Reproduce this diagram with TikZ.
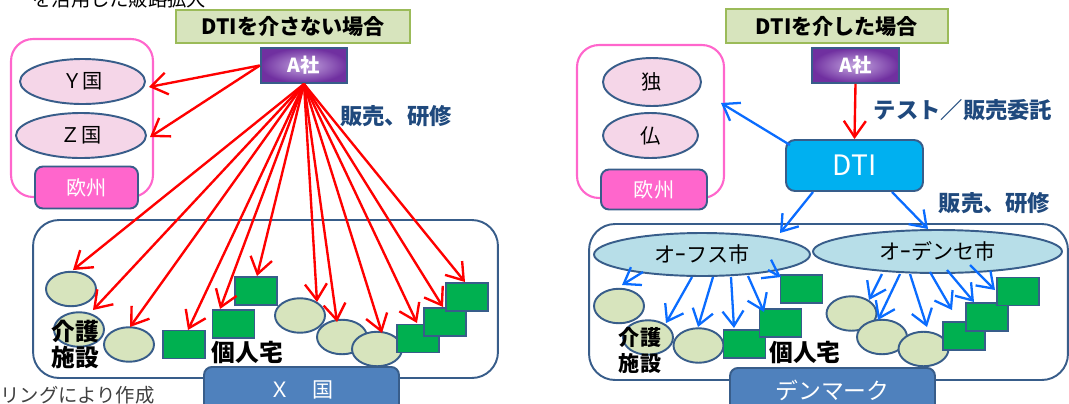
\documentclass[tikz,border=0pt]{standalone}
\usepackage{fontspec}
\setmainfont{Noto Sans CJK JP}
\usetikzlibrary{arrows.meta,shapes.geometric}
\definecolor{bord}{HTML}{385D8A}
\definecolor{titlef}{HTML}{D7E4BD}
\definecolor{titleb}{HTML}{9BBB59}
\definecolor{purd}{HTML}{7030A0}
\definecolor{purl}{HTML}{C4A6E0}
\definecolor{pinkf}{HTML}{FF66CC}
\definecolor{pinke}{HTML}{F5D6E8}
\definecolor{ellf}{HTML}{D7E4BD}
\definecolor{grnf}{HTML}{00B050}
\definecolor{cityf}{HTML}{B7DEE8}
\definecolor{dtif}{HTML}{00B0F0}
\definecolor{regf}{HTML}{4F81BD}
\definecolor{lblc}{HTML}{1F497D}
\definecolor{arrb}{HTML}{0A6CFF}
\definecolor{redc}{HTML}{FF0000}
\tikzset{
 titlebox/.style={draw=titleb, fill=titlef, line width=1.6pt, inner sep=0pt, font=\fontsize{12}{14}\selectfont\bfseries},
 acobox/.style={draw=bord, line width=1.1pt, inner color=purl, outer color=purd, text=white, inner sep=0pt, minimum width=1.73cm, minimum height=0.7cm, font=\fontsize{11}{13}\selectfont\bfseries},
 frame/.style={draw=pinkf, line width=1.2pt, rounded corners=0.44cm, inner sep=0pt},
 euell/.style={ellipse, draw=bord, fill=pinke, line width=1.1pt, inner sep=0pt, font=\fontsize{11.5}{13}\selectfont},
 eubox/.style={draw=bord, fill=pinkf, line width=1.1pt, rounded corners=0.16cm, inner sep=0pt, text=white, font=\fontsize{11.5}{13}\selectfont},
 dtibox/.style={draw=bord, fill=dtif, line width=1.1pt, rounded corners=0.18cm, inner sep=0pt, text=white, font=\fontsize{16}{18}\selectfont},
 region/.style={draw=bord, line width=1.1pt, rounded corners=0.52cm, inner sep=0pt},
 reglab/.style={draw=bord, fill=regf, line width=1.1pt, rounded corners=0.16cm, inner sep=0pt, text=white, anchor=north},
 sme/.style={ellipse, draw=bord, fill=ellf, line width=1.1pt, inner sep=0pt, minimum width=1cm, minimum height=0.69cm},
 grn/.style={draw=bord, fill=grnf, line width=1.1pt, inner sep=0pt, minimum width=0.84cm, minimum height=0.56cm},
 city/.style={ellipse, draw=bord, fill=cityf, line width=1.1pt, inner sep=0pt, minimum height=0.86cm, font=\fontsize{12}{13}\selectfont},
 lbl/.style={text=lblc, inner sep=0pt, font=\fontsize{12.7}{14}\selectfont\bfseries},
 blk/.style={inner sep=0pt, align=left, font=\fontsize{13.5}{14.8}\selectfont\bfseries},
 rarr/.style={draw=redc, line width=1.35pt, -{Straight Barb[length=3.2mm,width=4.4mm]}},
 barr/.style={draw=arrb, line width=1.3pt, -{Straight Barb[length=3mm,width=4.2mm]}},
}
\begin{document}
\begin{tikzpicture}[x=0.02cm,y=-0.02cm]
\useasboundingbox (0,0) rectangle (1069,403);
\clip (0,0) rectangle (1069,403);

% ---------- fragments of surrounding text ----------
\node[anchor=base west, inner sep=0pt, font=\fontsize{11}{13}\selectfont] (topT) at (32,6) {を活用した販路拡大};
\node[anchor=west, inner sep=0pt, text=black!75, font=\fontsize{11}{13}\selectfont] (srcT) at (0,395) {リングにより作成};

% ================= LEFT PANEL =================
\node[region, minimum width=9.3cm, minimum height=3.16cm] (rgL) at (265.5,299) {};
\node[frame, minimum width=2.84cm, minimum height=3.16cm] (fL) at (82,118) {};
\node[titlebox, minimum width=4.68cm, minimum height=0.66cm] (tL) at (293,26.5) {DTIを介さない場合};
\node[acobox] (aL) at (304,65.5) {A社};
\node[euell, minimum width=2.5cm, minimum height=0.9cm] (yK) at (82.5,81.5) {Ｙ国};
\node[euell, minimum width=2.6cm, minimum height=0.9cm] (zK) at (81,135.5) {Ｚ国};
\node[eubox, minimum width=2.06cm, minimum height=0.84cm] (euL) at (86.5,187.5) {欧州};

\node[sme] (e1) at (71,289) {};
\node[sme] (e2) at (79,329.5) {};
\node[sme] (e3) at (129,344.5) {};
\node[grn] (rA) at (184,344.5) {};
\node[grn] (rB) at (233.5,324) {};
\node[grn] (rC) at (256,291) {};
\node[sme] (e4) at (300,315.5) {};
\node[sme] (e5) at (342,337) {};
\node[sme] (e6) at (377,349) {};
\node[grn] (rD) at (418,338.5) {};
\node[grn] (rE) at (445,322) {};
\node[grn] (rF) at (467,297) {};

\node[blk] (kaigoL) at (75.5,344) {介護\\施設};
\node[blk] (kojinL) at (247.5,352.5) {個人宅};
\node[reglab, minimum width=3.9cm, minimum height=0.9cm, font=\fontsize{12}{14}\selectfont] (xL) at (301.5,366) {Ｘ　国};
\node[lbl] (hanL) at (396,116) {販売、研修};

\coordinate (tY) at (149,87);
\coordinate (tZ) at (150,137);
\coordinate (t1) at (73,270);
\coordinate (t2) at (93,310);
\coordinate (t3) at (130,327);
\coordinate (t4) at (188,330);
\coordinate (t5) at (220,309);
\coordinate (t6) at (257,276);
\coordinate (t7) at (317,302);
\coordinate (t8) at (337,322);
\coordinate (t9) at (382,333);
\coordinate (t10) at (417,323);
\coordinate (t11) at (443,307);
\coordinate (t12) at (465,282);
\draw[rarr] (aL.west) -- (tY);
\draw[rarr] (aL.west) -- (tZ);
\foreach \t in {t1,t2,t3,t4,t5,t6,t7,t8,t9,t10,t11,t12}
  \draw[rarr] (aL.south) -- (\t);

% ================= RIGHT PANEL =================
\node[region, minimum width=9.58cm, minimum height=3.12cm] (rgR) at (828.5,302) {};
\node[frame, minimum width=2.94cm, minimum height=3.06cm] (fR) at (650.5,121.5) {};
\node[titlebox, minimum width=4.44cm, minimum height=0.68cm] (tR) at (837,26) {DTIを介した場合};
\node[acobox] (aR) at (855.5,65.5) {A社};
\node[euell, minimum width=1.96cm, minimum height=0.96cm] (doku) at (652,82) {独};
\node[euell, minimum width=1.9cm, minimum height=0.9cm] (futsu) at (650.5,135.5) {仏};
\node[eubox, minimum width=2.12cm, minimum height=0.8cm] (euR) at (654,189.5) {欧州};
\node[dtibox, minimum width=2.74cm, minimum height=1.02cm] (dti) at (854.5,165.5) {DTI};
\node[lbl] (testL) at (963,110) {テスト／販売委託};
\node[lbl] (hanR) at (994.5,203) {販売、研修};
\node[city, minimum width=4.32cm] (aarhus) at (702,254.5) {オｰフス市};
\node[city, minimum width=4.98cm] (odense) at (937.5,251.5) {オｰデンセ市};

\node[sme] (r1) at (619,306) {};
\node[sme] (r2) at (648,337.5) {};
\node[sme] (r3) at (698.5,345.5) {};
\node[grn] (g1) at (744.5,344) {};
\node[grn] (g2) at (780.5,323) {};
\node[grn] (g3) at (801.5,289) {};
\node[sme] (r4) at (851.5,313.5) {};
\node[sme] (r5) at (882,337) {};
\node[sme] (r6) at (923.5,349) {};
\node[grn] (g4) at (964,336) {};
\node[grn] (g5) at (987,317) {};
\node[grn] (g6) at (1018,291.5) {};

\node[blk, font=\fontsize{12}{14.8}\selectfont\bfseries] (kaigoR) at (640,350) {介護\\施設};
\node[blk] (kojinR) at (805,353) {個人宅};
\node[reglab, minimum width=4.1cm, minimum height=0.9cm, font=\fontsize{13}{15}\selectfont] (dk) at (832.5,367) {デンマーク};

\draw[rarr] (aR.south) -- (dti.north);
\coordinate (dEu) at (790,145);
\coordinate (tEu) at (721,103);
\draw[barr] (dEu) -- (tEu);
\coordinate (dL) at (813,192);
\coordinate (tAa) at (780,233);
\coordinate (dR) at (892,192);
\coordinate (tOd) at (928,229);
\draw[barr] (dL) -- (tAa);
\draw[barr] (dR) -- (tOd);

\coordinate (a1s) at (643,272); \coordinate (a1t) at (622,285);
\coordinate (a2s) at (692,277); \coordinate (a2t) at (666,323);
\coordinate (a3s) at (713,277); \coordinate (a3t) at (698,327);
\coordinate (a4s) at (731,277); \coordinate (a4t) at (734,328);
\coordinate (a5s) at (748,276); \coordinate (a5t) at (764,312);
\coordinate (a6s) at (768,270); \coordinate (a6t) at (781,277);
\foreach \i in {1,...,6} \draw[barr] (a\i s) -- (a\i t);

\coordinate (b1s) at (882,274); \coordinate (b1t) at (869,300);
\coordinate (b2s) at (900,274); \coordinate (b2t) at (878,320);
\coordinate (b3s) at (910,274); \coordinate (b3t) at (927,327);
\coordinate (b4s) at (930,272); \coordinate (b4t) at (952,310);
\coordinate (b5s) at (947,270); \coordinate (b5t) at (974,302);
\coordinate (b6s) at (970,265); \coordinate (b6t) at (995,290);
\foreach \i in {1,...,6} \draw[barr] (b\i s) -- (b\i t);
\end{tikzpicture}
\end{document}
